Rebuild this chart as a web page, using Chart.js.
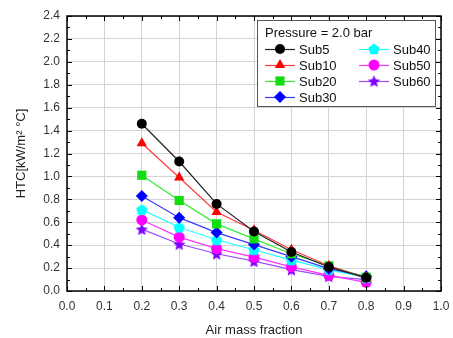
<!DOCTYPE html>
<html>
<head>
<meta charset="utf-8">
<script src="https://cdn.jsdelivr.net/npm/chart.js@4/dist/chart.umd.min.js"></script>
<style>
  html, body { margin: 0; padding: 0; background: #fff; }
  #wrap { width: 453px; height: 338px; }
</style>
</head>
<body>
<div id="wrap"><canvas id="htcChart" width="453" height="338"></canvas></div>
<script>
// air mass fraction
const airFraction = [0.2, 0.3, 0.4, 0.5, 0.6, 0.7, 0.8];
// HTC values, kW/m2 C
const sub5  = [1.46, 1.13, 0.76, 0.52, 0.34, 0.21, 0.115];
const sub10 = [1.29, 0.99, 0.69, 0.53, 0.36, 0.22, 0.115];
const sub20 = [1.01, 0.79, 0.586, 0.455, 0.325, 0.22, 0.12];
const sub30 = [0.83, 0.64, 0.51, 0.405, 0.30, 0.195, 0.128];
const sub40 = [0.71, 0.556, 0.447, 0.36, 0.27, 0.186, 0.116];
const sub50 = [0.62, 0.47, 0.37, 0.295, 0.21, 0.137, 0.076];
const sub60 = [0.54, 0.41, 0.325, 0.26, 0.186, 0.128, 0.10];
const seriesNames = ['Sub5', 'Sub10', 'Sub20', 'Sub30', 'Sub40', 'Sub50', 'Sub60'];
const xTicks = [0, 0.1, 0.2, 0.3, 0.4, 0.5, 0.6, 0.7, 0.8, 0.9, 1.0];
const yTicks = [0, 0.2, 0.4, 0.6, 0.8, 1.0, 1.2, 1.4, 1.6, 1.8, 2.0, 2.2, 2.4];

// filled pentagon / star markers (not built into Chart.js)
function polyMarker(color, pts, r) {
    const c = document.createElement('canvas');
    c.width = c.height = 2 * r + 2;
    const g = c.getContext('2d');
    g.fillStyle = color;
    g.beginPath();
    pts.forEach((p, i) => {
        const x = r + 1 + p[0], y = r + 1 + p[1];
        if (i === 0) g.moveTo(x, y); else g.lineTo(x, y);
    });
    g.closePath();
    g.fill();
    return c;
}
function pentagon(color, r) {
    const pts = [];
    for (let i = 0; i < 5; i++) {
        const a = -Math.PI / 2 + i * 2 * Math.PI / 5;
        pts.push([r * Math.cos(a), r * Math.sin(a) + 0.5]);
    }
    return polyMarker(color, pts, r);
}
function star(color, r) {
    const pts = [];
    for (let i = 0; i < 10; i++) {
        const a = -Math.PI / 2 + i * Math.PI / 5;
        const rr = i % 2 === 0 ? r : r * 0.45;
        pts.push([rr * Math.cos(a), rr * Math.sin(a) + 0.7]);
    }
    return polyMarker(color, pts, r);
}

const styles = [
    { line: '#222222', fill: '#000000', point: 'circle', r: 5 },
    { line: '#ff3b3b', fill: '#ff0000', point: 'triangle', r: 6 },
    { line: '#33ee33', fill: '#11dd11', point: 'rect', r: 6.5 },
    { line: '#3a3aff', fill: '#0000ff', point: 'rectRot', r: 6 },
    { line: '#22ffff', fill: '#00ffff', point: pentagon('#00ffff', 6), r: 6 },
    { line: '#ff33ff', fill: '#ff00ff', point: 'circle', r: 5.5 },
    { line: '#9a4dff', fill: '#7f00ff', point: star('#7f00ff', 6.5), r: 6 }
];
const allValues = [sub5, sub10, sub20, sub30, sub40, sub50, sub60];

const datasets = allValues.map((vals, i) => ({
    label: seriesNames[i],
    data: airFraction.map((x, j) => ({ x: x, y: vals[j] })),
    borderColor: styles[i].line,
    backgroundColor: styles[i].fill,
    pointBackgroundColor: styles[i].fill,
    pointBorderColor: styles[i].fill,
    pointBorderWidth: 0,
    pointStyle: styles[i].point,
    pointRadius: styles[i].r,
    borderWidth: 1.2,
    tension: 0
}));

// mirror ticks on all four sides, pointing in, plus minor ticks
const frameTicks = {
    id: 'frameTicks',
    afterDraw(chart) {
        const { ctx, chartArea: a, scales } = chart;
        ctx.save();
        ctx.strokeStyle = '#000';
        ctx.lineWidth = 1;
        for (let v = 0; v <= 1.0001; v += 0.05) {
            const px = Math.round(scales.x.getPixelForValue(v)) + 0.5;
            const len = Math.abs(v * 10 - Math.round(v * 10)) < 0.01 ? 5 : 3;
            ctx.beginPath();
            ctx.moveTo(px, a.bottom); ctx.lineTo(px, a.bottom - len);
            ctx.moveTo(px, a.top); ctx.lineTo(px, a.top + len);
            ctx.stroke();
        }
        for (let v = 0; v <= 2.4001; v += 0.1) {
            const py = Math.round(scales.y.getPixelForValue(v)) + 0.5;
            const len = Math.abs(v * 5 - Math.round(v * 5)) < 0.01 ? 5 : 3;
            ctx.beginPath();
            ctx.moveTo(a.left, py); ctx.lineTo(a.left + len, py);
            ctx.moveTo(a.right, py); ctx.lineTo(a.right - len, py);
            ctx.stroke();
        }
        ctx.lineWidth = 1.5;
        ctx.strokeRect(a.left, a.top, a.right - a.left, a.bottom - a.top);
        ctx.restore();
    }
};

// boxed two-column legend like the original
const boxLegend = {
    id: 'boxLegend',
    afterDraw(chart) {
        const ctx = chart.ctx;
        const bx = 257, by = 20, bw = 178, bh = 86;
        ctx.save();
        ctx.fillStyle = '#fff';
        ctx.fillRect(bx, by, bw, bh);
        ctx.strokeStyle = '#555';
        ctx.lineWidth = 1;
        ctx.strokeRect(bx + 0.5, by + 0.5, bw, bh);
        ctx.font = '13px "Liberation Sans", Arial, sans-serif';
        ctx.fillStyle = '#111';
        ctx.textBaseline = 'middle';
        ctx.fillText('Pressure = 2.0 bar', 265, 33);
        const rows = [49, 65, 81, 97];
        chart.data.datasets.forEach((ds, i) => {
            const col = i < 4 ? 0 : 1;
            const row = i < 4 ? i : i - 4;
            const x0 = col === 0 ? 265 : 359;
            const y = rows[row];
            ctx.strokeStyle = ds.borderColor;
            ctx.lineWidth = 1.2;
            ctx.beginPath();
            ctx.moveTo(x0, y + 0.5); ctx.lineTo(x0 + 30, y + 0.5);
            ctx.stroke();
            ctx.fillStyle = ds.pointBackgroundColor;
            ctx.strokeStyle = ds.pointBorderColor;
            Chart.helpers.drawPoint(ctx, {
                pointStyle: ds.pointStyle, radius: ds.pointRadius, rotation: 0, borderWidth: 0
            }, x0 + 15, y);
            ctx.fillStyle = '#111';
            ctx.fillText(ds.label, x0 + 34, y + 1);
        });
        ctx.restore();
    }
};

new Chart(document.getElementById('htcChart').getContext('2d'), {
    type: 'line',
    data: { datasets },
    options: {
        responsive: false,
        animation: false,
        layout: { padding: { top: 16, right: 12, left: 0, bottom: 0 } },
        plugins: { legend: { display: false }, tooltip: { enabled: false } },
        scales: {
            x: {
                type: 'linear', min: 0, max: 1,
                afterBuildTicks: s => { s.ticks = xTicks.map(v => ({ value: v })); },
                afterFit: s => { s.height = 47; s.paddingLeft = 0; s.paddingRight = 0; },
                grid: { color: '#d4d4d4', lineWidth: 1, drawTicks: false },
                border: { display: false },
                ticks: {
                    padding: 8, color: '#333',
                    font: { family: '"Liberation Sans", Arial, sans-serif', size: 12 },
                    callback: v => v.toFixed(1)
                },
                title: {
                    display: true, text: 'Air mass fraction', color: '#222',
                    font: { family: '"Liberation Sans", Arial, sans-serif', size: 13 },
                    padding: { top: 4, bottom: 0 }
                }
            },
            y: {
                type: 'linear', min: 0, max: 2.4,
                afterBuildTicks: s => { s.ticks = yTicks.map(v => ({ value: v })); },
                afterFit: s => { s.width = 67; s.paddingTop = 0; s.paddingBottom = 0; },
                grid: { color: '#d4d4d4', lineWidth: 1, drawTicks: false },
                border: { display: false },
                ticks: {
                    padding: 7, color: '#333',
                    font: { family: '"Liberation Sans", Arial, sans-serif', size: 12 },
                    callback: v => v.toFixed(1)
                },
                title: {
                    display: true, text: 'HTC[kW/m\u00B2 \u00B0C]', color: '#222',
                    font: { family: '"Liberation Sans", Arial, sans-serif', size: 13 },
                    padding: { top: 14, bottom: 4 }
                }
            }
        }
    },
    plugins: [frameTicks, boxLegend]
});
</script>
</body>
</html>
